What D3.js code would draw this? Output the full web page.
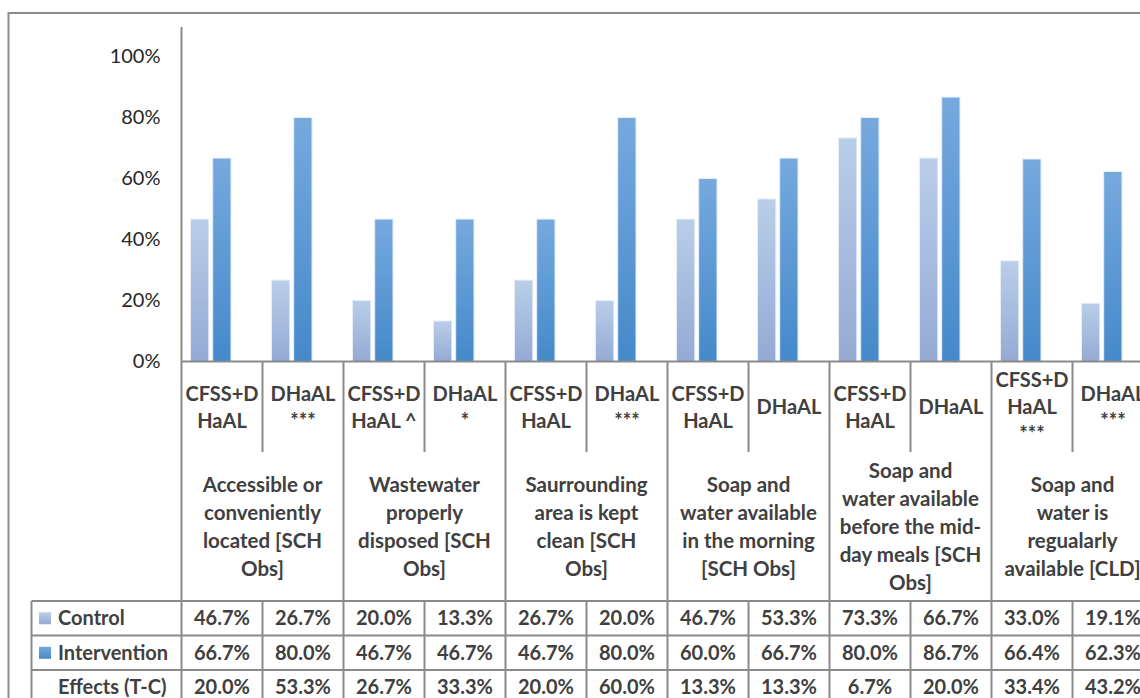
<!DOCTYPE html>
<meta charset="utf-8">
<style>
body { margin: 0; background: #fff; }
svg { display: block; font-family: Lato, "Open Sans", sans-serif; }
</style>
<div id="chart"></div>

<script src="https://d3js.org/d3.v7.min.js"></script>
<script>
// values
var subLabels = [
  ["CFSS+D", "HaAL"], ["DHaAL", "***"],
  ["CFSS+D", "HaAL ^"], ["DHaAL", "*"],
  ["CFSS+D", "HaAL"], ["DHaAL", "***"],
  ["CFSS+D", "HaAL"], ["DHaAL"],
  ["CFSS+D", "HaAL"], ["DHaAL"],
  ["CFSS+D", "HaAL", "***"], ["DHaAL", "***"]
];
var groupLabels = [
  ["Accessible or", "conveniently", "located [SCH", "Obs]"],
  ["Wastewater", "properly", "disposed [SCH", "Obs]"],
  ["Saurrounding", "area is kept", "clean [SCH", "Obs]"],
  ["Soap and", "water available", "in the morning", "[SCH Obs]"],
  ["Soap and", "water available", "before the mid-", "day meals [SCH", "Obs]"],
  ["Soap and", "water is", "regualarly", "available [CLD]"]
];
var control      = [0.467, 0.267, 0.200, 0.133, 0.267, 0.200, 0.467, 0.533, 0.733, 0.667, 0.330, 0.191];
var intervention = [0.667, 0.800, 0.467, 0.467, 0.467, 0.800, 0.600, 0.667, 0.800, 0.867, 0.664, 0.623];
var effects      = [0.200, 0.533, 0.267, 0.333, 0.200, 0.600, 0.133, 0.133, 0.067, 0.200, 0.334, 0.432];
var seriesNames = ["Control", "Intervention"];
var yTicks = [0, 0.2, 0.4, 0.6, 0.8, 1.0];

var width = 1140, height = 698;
var x0 = 181.5, colW = 81, baseY = 361.5;
var lineCol = "#8a8a8a", textCol = "#404040";

var svg = d3.select("#chart").append("svg")
    .attr("width", width)
    .attr("height", height);

var defs = svg.append("defs");
function grad(id, top, bottom) {
  var g = defs.append("linearGradient").attr("id", id)
      .attr("x1", 0).attr("y1", 0).attr("x2", 0).attr("y2", 1);
  g.append("stop").attr("offset", "0%").attr("stop-color", top);
  g.append("stop").attr("offset", "100%").attr("stop-color", bottom);
}
grad("gControl", "#bacee9", "#94aad3");
grad("gInterv", "#76a9de", "#4589ca");
var fills = {Control: "url(#gControl)", Intervention: "url(#gInterv)"};

var x = d3.scaleBand()
    .domain(d3.range(control.length))
    .range([x0, x0 + colW * control.length]);

var xs = d3.scaleBand()
    .domain(seriesNames)
    .range([9, 49.5])
    .paddingInner(0.175);

var y = d3.scaleLinear()
    .domain([0, 1])
    .range([baseY, 56.5]);

// outer frame
svg.append("rect")
    .attr("x", 8.5).attr("y", 13)
    .attr("width", 1300).attr("height", 900)
    .attr("fill", "none").attr("stroke", "#8c8c8c").attr("stroke-width", 2);

// y axis
var yAxis = svg.append("g")
    .attr("transform", `translate(${x0},0)`)
    .call(d3.axisLeft(y).tickValues(yTicks).tickFormat(d3.format(".0%")).tickSize(0).tickPadding(21))
    .call(g => g.select(".domain").remove());
yAxis.selectAll("text")
    .attr("font-family", "Lato, sans-serif")
    .attr("font-size", 20)
    .attr("fill", "#262626");

svg.append("line")
    .attr("x1", x0).attr("x2", x0)
    .attr("y1", 27).attr("y2", baseY)
    .attr("stroke", lineCol).attr("stroke-width", 2);

// bars
var rows = d3.range(control.length).map(i => ({i: i, Control: control[i], Intervention: intervention[i]}));
svg.append("g")
  .selectAll("g")
  .data(rows)
  .join("g")
    .attr("transform", d => `translate(${x(d.i)},0)`)
  .selectAll("rect")
  .data(d => seriesNames.map(k => ({key: k, value: d[k]})))
  .join("rect")
    .attr("x", d => xs(d.key))
    .attr("width", xs.bandwidth())
    .attr("y", d => y(d.value))
    .attr("height", d => baseY - y(d.value))
    .attr("fill", d => fills[d.key])
    .attr("stroke", "#e6eef8")
    .attr("stroke-width", 1);

// baseline
svg.append("line")
    .attr("x1", x0).attr("x2", x0 + colW * control.length)
    .attr("y1", baseY).attr("y2", baseY)
    .attr("stroke", lineCol).attr("stroke-width", 2);

// table geometry
var tableLeft = 31.5, tableTop = 601, rowH = 34.5, tableBottom = tableTop + rowH * 3;
var grid = svg.append("g").attr("stroke", lineCol).attr("stroke-width", 2);

d3.range(control.length + 1).forEach(function(k) {
  var xx = x0 + k * colW;
  if (k % 2 === 0) {
    grid.append("line").attr("x1", xx).attr("x2", xx).attr("y1", baseY).attr("y2", tableBottom);
  } else {
    grid.append("line").attr("x1", xx).attr("x2", xx).attr("y1", baseY).attr("y2", 452);
    grid.append("line").attr("x1", xx).attr("x2", xx).attr("y1", tableTop).attr("y2", tableBottom);
  }
});
grid.append("line").attr("x1", tableLeft).attr("x2", tableLeft).attr("y1", tableTop).attr("y2", tableBottom);
d3.range(4).forEach(function(r) {
  grid.append("line")
      .attr("x1", tableLeft).attr("x2", x0 + colW * control.length)
      .attr("y1", tableTop + r * rowH).attr("y2", tableTop + r * rowH);
});

// multi-line centred text helper
function multiText(g, lines, cx, cy, lh, size) {
  var t = g.append("text")
      .attr("text-anchor", "middle")
      .attr("font-size", size)
      .attr("font-weight", "bold")
      .attr("fill", textCol);
  lines.forEach(function(s, j) {
    t.append("tspan")
        .attr("x", cx)
        .attr("y", cy - (lines.length - 1) * lh / 2 + j * lh)
        .attr("dy", "0.35em")
        .text(s);
  });
}

var labels = svg.append("g");
subLabels.forEach(function(lines, i) {
  multiText(labels, lines, x(i) + colW / 2, 407, 27, 20);
});
groupLabels.forEach(function(lines, g) {
  multiText(labels, lines, x(g * 2) + colW, 527, 28, 20.5);
});

// data table
var tableRows = [
  {name: "Control", values: control, swatch: "url(#gControl)"},
  {name: "Intervention", values: intervention, swatch: "url(#gInterv)"},
  {name: "Effects (T-C)", values: effects, swatch: null}
];
var fmt = d3.format(".1%");
tableRows.forEach(function(row, r) {
  var cy = tableTop + r * rowH + rowH / 2;
  if (row.swatch) {
    svg.append("rect")
        .attr("x", 39).attr("y", cy - 6)
        .attr("width", 12).attr("height", 12)
        .attr("fill", row.swatch);
  }
  svg.append("text")
      .attr("x", 58).attr("y", cy).attr("dy", "0.35em")
      .attr("font-size", 20).attr("font-weight", "bold")
      .attr("fill", textCol)
      .text(row.name);
  svg.append("g")
    .selectAll("text")
    .data(row.values)
    .join("text")
      .attr("x", (d, i) => x(i) + colW / 2)
      .attr("y", cy).attr("dy", "0.35em")
      .attr("text-anchor", "middle")
      .attr("font-size", 20).attr("font-weight", "bold")
      .attr("fill", textCol)
      .text(d => fmt(d));
});
</script>
